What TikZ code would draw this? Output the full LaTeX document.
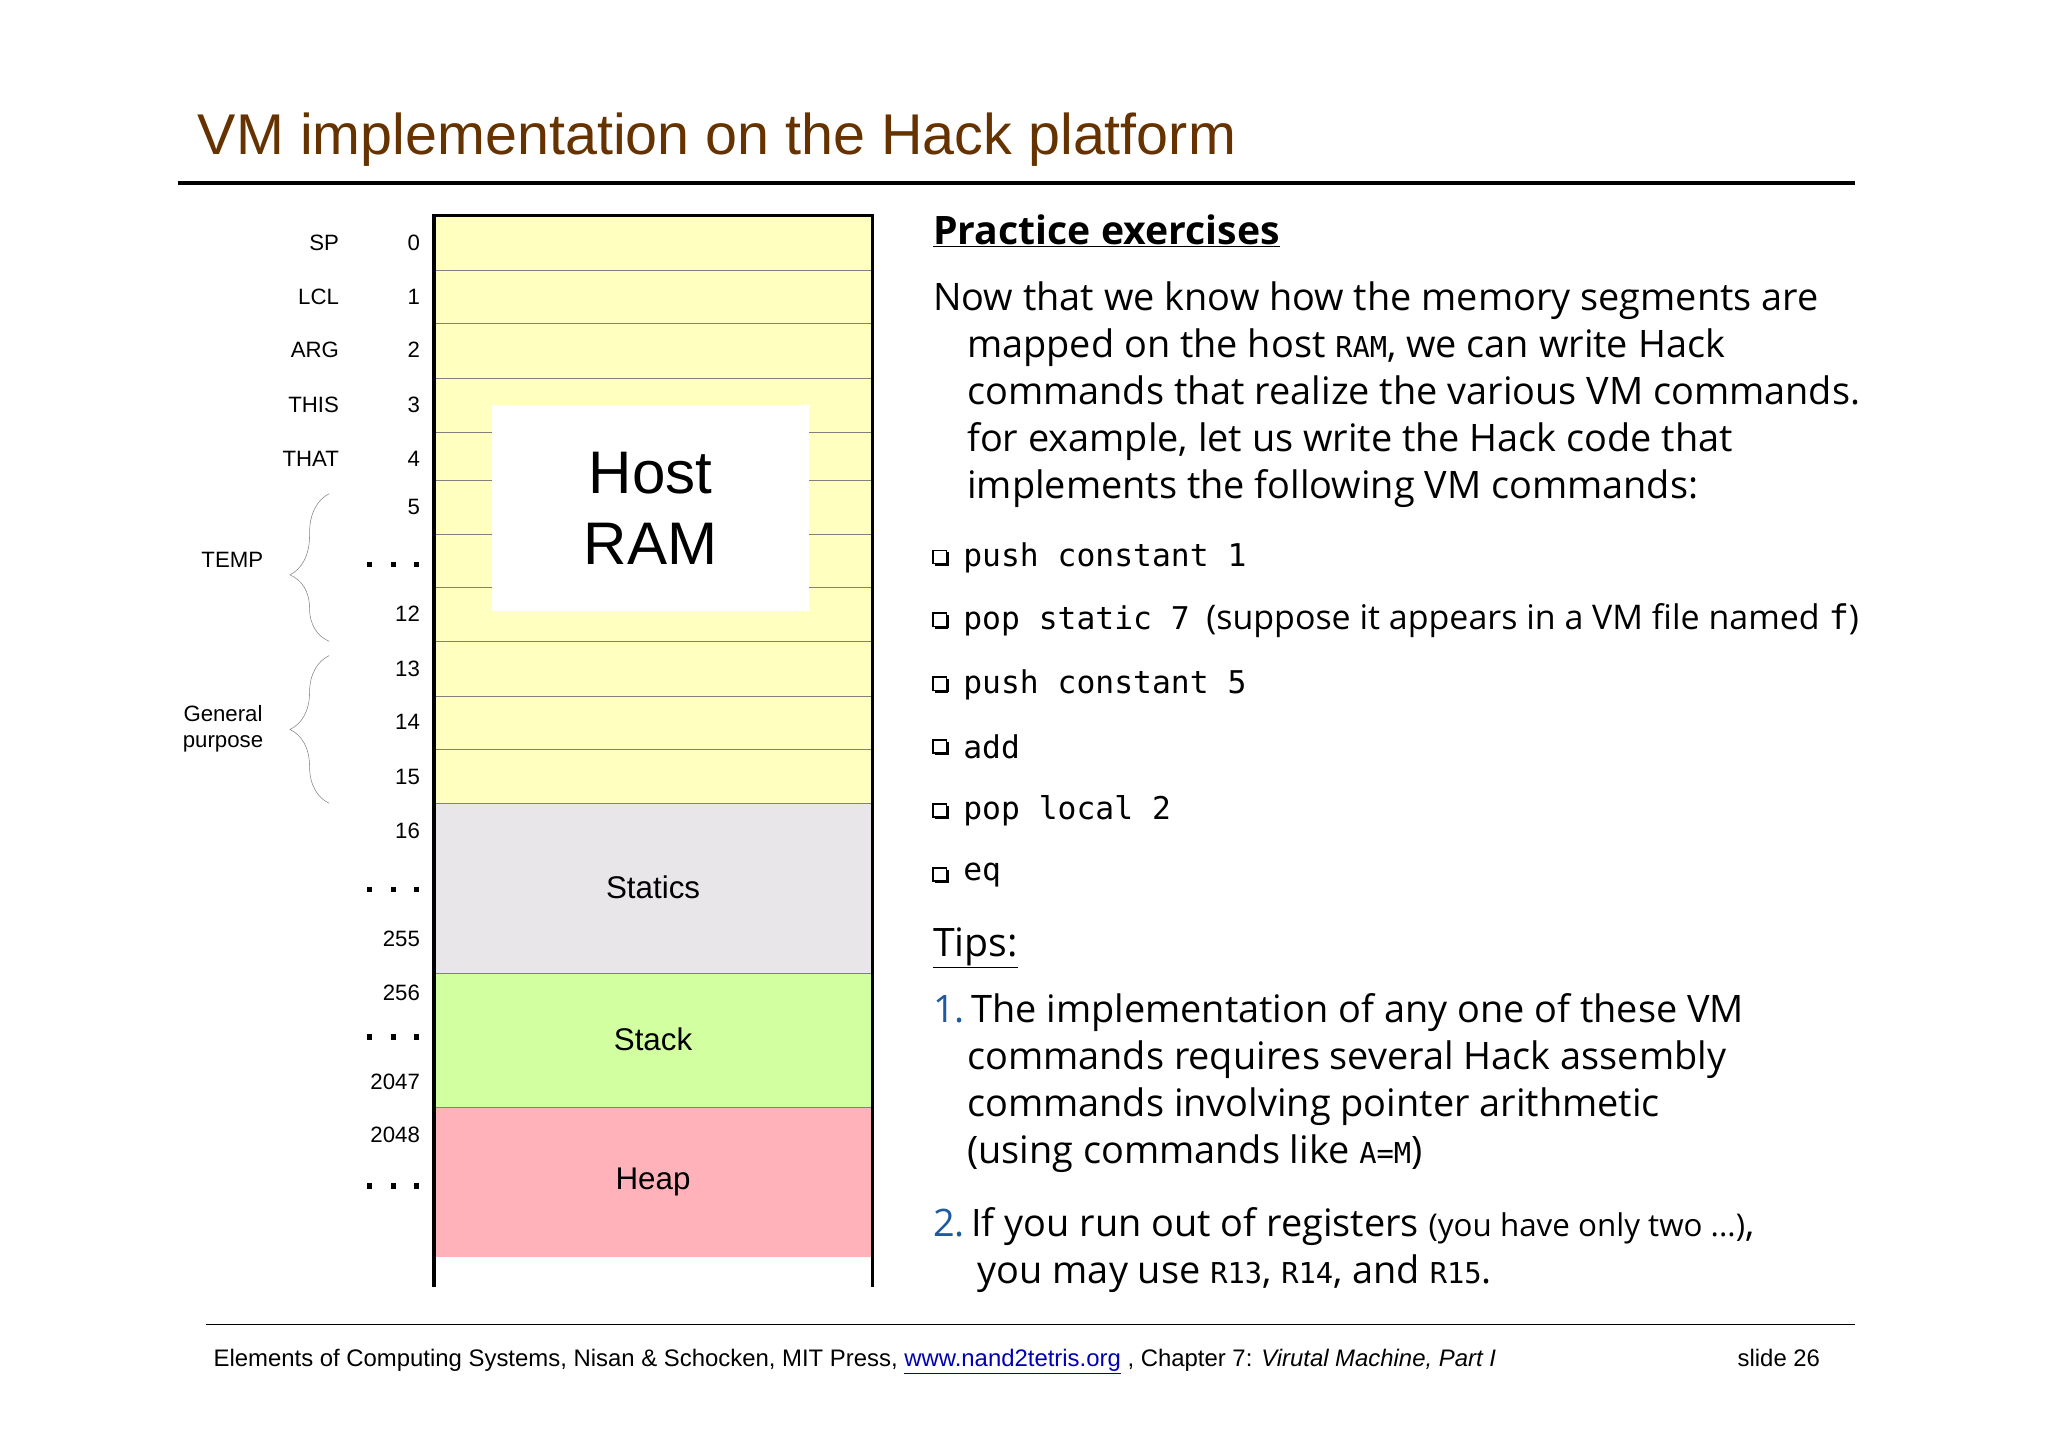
\documentclass[tikz,border=0pt]{standalone}
\usepackage{fontspec}
\setmainfont{Liberation Sans}
\newfontfamily\comic{Open Sans}
\setmonofont{DejaVu Sans Mono}
\usetikzlibrary{decorations.pathreplacing}
\definecolor{titlec}{RGB}{102,51,0}
\definecolor{ramy}{RGB}{255,255,192}
\definecolor{ramg}{RGB}{232,230,232}
\definecolor{rams}{RGB}{210,255,160}
\definecolor{ramh}{RGB}{255,178,186}
\definecolor{blu}{RGB}{30,90,160}
\tikzset{lab/.style={anchor=east,font=\fontsize{17}{20}\selectfont},
 num/.style={anchor=east,font=\fontsize{17}{20}\selectfont},
 body/.style={anchor=north west,font=\comic\fontsize{29}{36}\selectfont,align=left},
 item/.style={anchor=west,font=\fontsize{25}{30}\selectfont},
 seg/.style={font=\fontsize{24}{28}\selectfont}}
\begin{document}
\begin{tikzpicture}[x=1pt,y=-1pt]
\useasboundingbox (0,0) rectangle (1568,1107);
\node[anchor=base west,text=titlec,font=\fontsize{44}{50}\selectfont] (title) at (148,118) {VM implementation on the Hack platform};
\draw[line width=3pt] (136,140) -- (1420,140);
% RAM
\fill[ramy] (332,165) rectangle (668,615);
\fill[ramg] (332,615) rectangle (668,745);
\fill[rams] (332,745) rectangle (668,848);
\fill[ramh] (332,848) rectangle (668,962);
\foreach \y in {207,248,290,331,368,409,450,491,533,574,615,745,848}
  \draw[gray,line width=0.8pt] (332,\y) -- (668,\y);
\draw[line width=3pt] (332,985) -- (332,165) -- (668,165) -- (668,985);
\node[fill=white,minimum width=243,minimum height=158,font=\fontsize{46}{54}\selectfont,align=center] (host) at (498,389) {Host\\RAM};
\node[seg] (st) at (500,679) {Statics};
\node[seg] (sk) at (500,796) {Stack};
\node[seg] (hp) at (500,905) {Heap};
% labels
\foreach \t/\y in {SP/186,LCL/227,ARG/268,THIS/310,THAT/351}
  \node[lab] at (263,\y) {\t};
\foreach \t/\y in {0/186,1/227,2/268,3/310,4/351,5/388,12/470,13/512,14/553,15/595,16/636,255/719,256/760,2047/828,2048/869}
  \node[num] at (325,\y) {\t};
\foreach \y in {430,679,792,906}
  \foreach \dx in {-18,0,18} \fill (299+\dx,\y) rectangle ++(4,4);
\draw[gray,decorate,decoration={brace,amplitude=30pt,aspect=0.45}] (252,491) -- (252,378);
\draw[gray,decorate,decoration={brace,amplitude=30pt}] (252,615) -- (252,502);
\node[lab] (temp) at (205,429) {TEMP};
\node[lab,align=center] (gp) at (205,558) {General\\purpose};
% right text
\node[anchor=base west,font=\comic\bfseries\fontsize{30}{36}\selectfont] (pe) at (711,187) {\underline{Practice exercises}};
\node[body] (para) at (711,212) {Now that we know how the memory segments are\\
\hspace{26pt}mapped on the host {\ttfamily\fontsize{22}{26}\selectfont RAM}, we can write Hack\\
\hspace{26pt}commands that realize the various VM commands.\\
\hspace{26pt}for example, let us write the Hack code that\\
\hspace{26pt}implements the following VM commands:};
\foreach \t/\y in {push constant 1/427,pop static 7/475,push constant 5/524,add/572,pop local 2/621,eq/670}{
  \draw[line width=1.2pt,fill=white] (714.5,\y-5.5) rectangle ++(10,10);
  \fill (716,\y+4.5) rectangle ++(10,1.8);
  \fill (724.5,\y-4) rectangle ++(1.8,10);
  \node[item,font=\ttfamily\fontsize{24}{30}\selectfont] at (734,\y) {\t};}
\node[anchor=west,font=\comic\fontsize{26}{30}\selectfont] (sup) at (920,475) {(suppose it appears in a VM file named {\ttfamily f})};
\node[anchor=base west,font=\comic\fontsize{30}{36}\selectfont] (tips) at (711,732) {\underline{Tips:}};
\node[body] (t1) at (711,757) {{\color{blu}1.}\,The implementation of any one of these VM\\
\hspace{26pt}commands requires several Hack assembly\\
\hspace{26pt}commands involving pointer arithmetic\\
\hspace{26pt}(using commands like {\ttfamily\fontsize{22}{26}\selectfont A=M})};
\node[body] (t2) at (711,921) {{\color{blu}2.}\,If you run out of registers {\fontsize{24}{30}\selectfont(you have only two ...)},\\
\hspace{34pt}you may use {\ttfamily\fontsize{22}{26}\selectfont R13}, {\ttfamily\fontsize{22}{26}\selectfont R14}, and {\ttfamily\fontsize{22}{26}\selectfont R15}.};
% footer
\draw[line width=1.2pt] (158,1014) -- (1420,1014);
\node[anchor=base west,font=\fontsize{18.3}{20}\selectfont] (foot) at (160,1046) {Elements of Computing Systems, Nisan \& Schocken, MIT Press, {\color{blue!70!black}\underline{www.nand2tetris.org}} , Chapter 7: \textit{Virutal Machine, Part I}};
\node[anchor=base east,font=\fontsize{18.3}{20}\selectfont] (slide) at (1397,1046) {slide 26};
\end{tikzpicture}
\end{document}
